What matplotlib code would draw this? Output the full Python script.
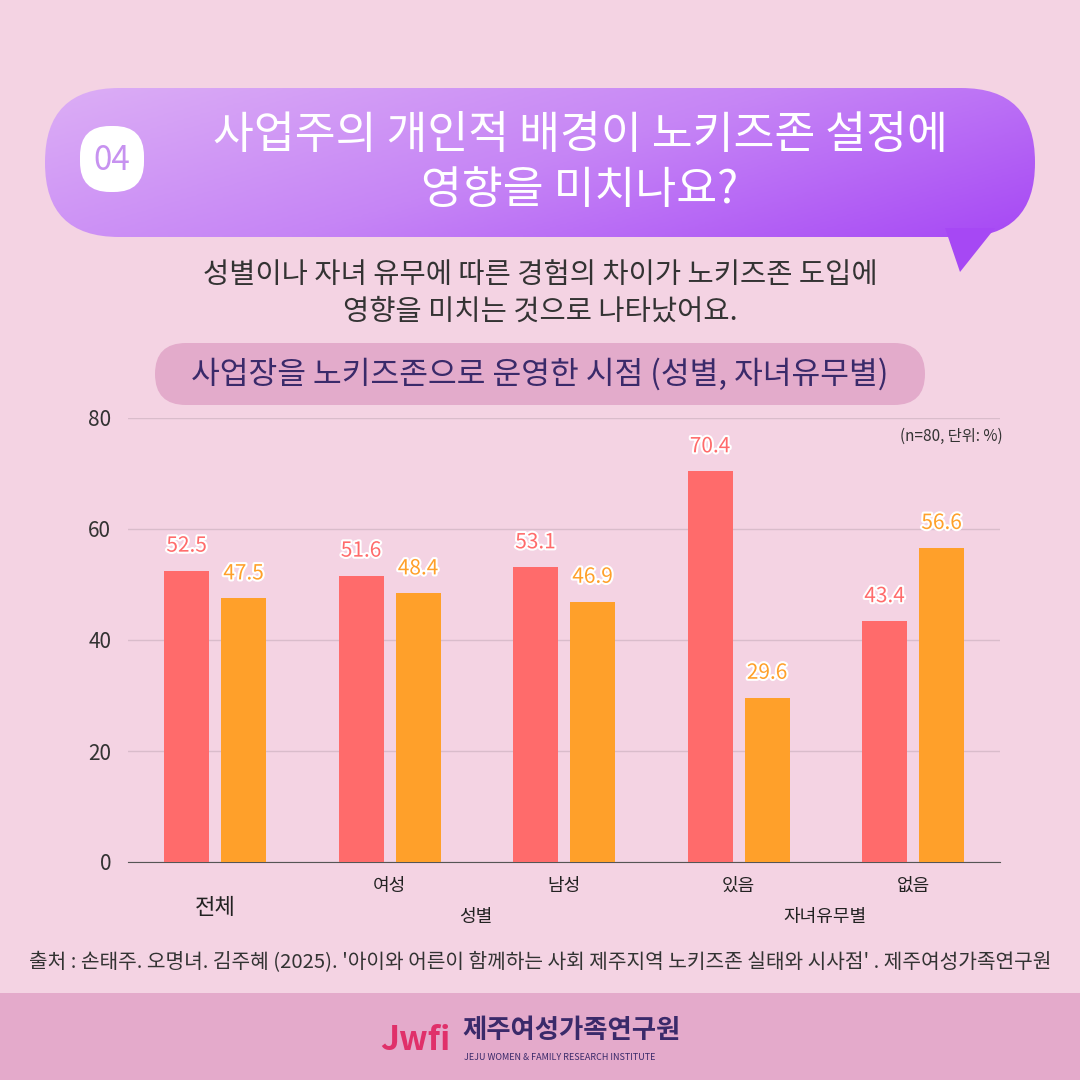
import matplotlib.pyplot as plt
import matplotlib.patheffects as pe
import numpy as np
from matplotlib.patches import FancyBboxPatch, Polygon
from matplotlib.colors import LinearSegmentedColormap

plt.rcParams['font.family'] = ['Noto Sans CJK KR', 'DejaVu Sans']

groups = ['전체', '여성', '남성', '있음', '없음']
red_vals = [52.5, 51.6, 53.1, 70.4, 43.4]
orange_vals = [47.5, 48.4, 46.9, 29.6, 56.6]
yticks = [0, 20, 40, 60, 80]

BG = '#f4d3e3'
RED = '#ff6b6b'
ORANGE = '#ffa02a'

fig = plt.figure(figsize=(10.8, 10.8), dpi=100)
fig.patch.set_facecolor(BG)

# overlay axes in pixel coords (y down)
ov = fig.add_axes([0, 0, 1, 1])
ov.set_xlim(0, 1080)
ov.set_ylim(1080, 0)
ov.axis('off')

# title bubble, diagonal gradient
xx, yy = np.meshgrid(np.linspace(0, 1, 300), np.linspace(0, 1, 60))
grad = 0.8 * xx + 0.4 * yy
cmap = LinearSegmentedColormap.from_list('g', ['#dcaef5', '#c685f6', '#a648f4'])
bubble = FancyBboxPatch((45, 88), 990, 149, boxstyle='round,pad=0,rounding_size=74',
                        fc='none', ec='none')
ov.add_patch(bubble)
im = ov.imshow(grad, extent=(45, 1035, 237, 88), cmap=cmap, aspect='auto', zorder=1)
im.set_clip_path(bubble)
ov.add_patch(Polygon([[945, 228], [995, 228], [960, 272]], closed=True, fc='#a648f4', ec='none', zorder=1))
ov.add_patch(FancyBboxPatch((80, 126), 64, 66, boxstyle='round,pad=0,rounding_size=30',
                            fc='white', ec='none', zorder=2))
ov.text(112, 161, '04', ha='center', va='center', fontsize=24, color='#c792f0', zorder=3)
ov.text(580, 135, '사업주의 개인적 배경이 노키즈존 설정에', ha='center', va='center',
        fontsize=32, color='white', zorder=3)
ov.text(580, 190, '영향을 미치나요?', ha='center', va='center', fontsize=32, color='white', zorder=3)

ov.text(540, 275, '성별이나 자녀 유무에 따른 경험의 차이가 노키즈존 도입에', ha='center', va='center',
        fontsize=20.5, color='#333333')
ov.text(540, 312, '영향을 미치는 것으로 나타났어요.', ha='center', va='center', fontsize=20.5, color='#333333')

ov.add_patch(FancyBboxPatch((155, 343), 770, 62, boxstyle='round,pad=0,rounding_size=31',
                            fc='#e3abcb', ec='none'))
ov.text(540, 374, '사업장을 노키즈존으로 운영한 시점 (성별, 자녀유무별)', ha='center', va='center',
        fontsize=22.5, color='#3a2a6a', fontweight='medium')

ov.text(1003, 436, '(n=80, 단위: %)', ha='right', va='center', fontsize=11, color='#333333')
ov.text(540, 963, "출처 : 손태주. 오명녀. 김주혜 (2025). '아이와 어른이 함께하는 사회 제주지역 노키즈존 실태와 시사점' . 제주여성가족연구원",
        ha='center', va='center', fontsize=14.6, color='#333333')

ov.add_patch(plt.Rectangle((0, 993), 1080, 87, fc='#e4aacb', ec='none'))
ov.text(462, 1030, '제주여성가족연구원', ha='left', va='center', fontsize=19, color='#3a2a6a', fontweight='bold')
ov.text(464, 1057, 'JEJU WOMEN & FAMILY RESEARCH INSTITUTE', ha='left', va='center', fontsize=6.5, color='#3a2a6a')
ov.text(415, 1040, 'Jwfi', ha='center', va='center', fontsize=24, color='#e0306a', fontstyle='italic', fontweight='bold')

# chart
ax = fig.add_axes([128 / 1080, (1080 - 862) / 1080, (1000 - 128) / 1080, (862 - 418) / 1080])
ax.set_facecolor('none')
ax.set_zorder(2)
x = np.arange(len(groups)) * 174.5 + 87
w = 45
off = 28.5
ax.bar(x - off, red_vals, w, color=RED, zorder=3)
ax.bar(x + off, orange_vals, w, color=ORANGE, zorder=3)
stroke = [pe.withStroke(linewidth=3, foreground='white')]
for xi, r, o in zip(x, red_vals, orange_vals):
    ax.text(xi - off, r + 4.5, f'{r}', ha='center', va='center', fontsize=15, color=RED, path_effects=stroke)
    ax.text(xi + off, o + 4.5, f'{o}', ha='center', va='center', fontsize=15, color=ORANGE, path_effects=stroke)
ax.set_xlim(0, 872)
ax.set_ylim(0, 80)
ax.set_yticks(yticks)
ax.yaxis.grid(True, color='#d9bccb', lw=1)
ax.set_axisbelow(True)
for s in ['top', 'right', 'left']:
    ax.spines[s].set_visible(False)
ax.spines['bottom'].set_color('#555555')
ax.tick_params(axis='y', length=0, labelsize=15, colors='#333333', pad=12)
ax.set_xticks([])

# x labels
for i, g in enumerate(groups):
    px = 128 + x[i]
    if i == 0:
        ov.text(px, 908, g, ha='center', va='center', fontsize=16, color='#222222')
    else:
        ov.text(px, 886, g, ha='center', va='center', fontsize=13, color='#222222')
ov.text(476, 917, '성별', ha='center', va='center', fontsize=13, color='#222222')
ov.text(825, 917, '자녀유무별', ha='center', va='center', fontsize=13, color='#222222')

fig.savefig('out.png', dpi=100, facecolor=BG)
